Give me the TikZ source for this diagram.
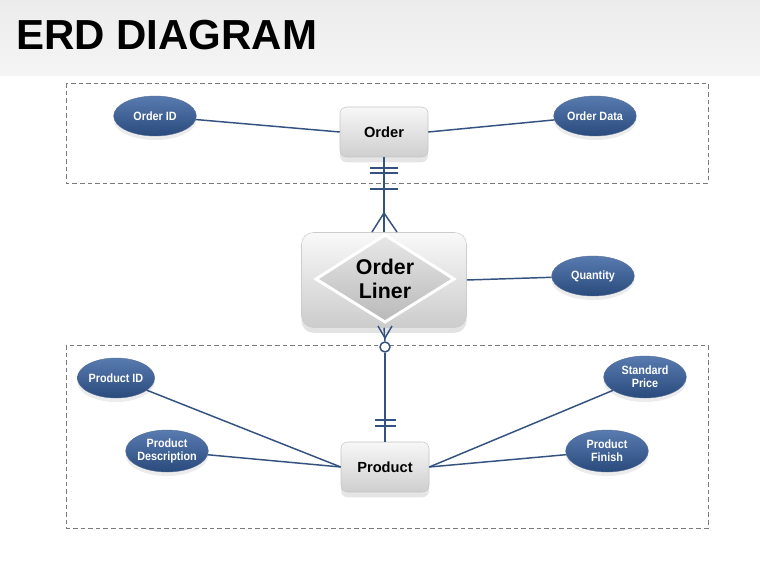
\documentclass[tikz,border=0pt]{standalone}
\usepackage{fontspec}
\setmainfont{Liberation Sans}
\newfontfamily\narrowfont[FakeStretch=0.9]{Liberation Sans}
\usetikzlibrary{shapes.geometric,shadows,calc}
\definecolor{lineblue}{HTML}{34527F}
\definecolor{attrtop}{HTML}{587BB0}
\definecolor{attrbot}{HTML}{2A4A7C}
\definecolor{boxdash}{HTML}{7A7A7A}
\tikzset{
  attr/.style={ellipse, minimum width=62pt, minimum height=30pt, inner xsep=-8pt, inner ysep=-2pt,
    top color=attrtop, bottom color=attrbot, draw=attrbot!80, line width=0.3pt,
    text=white, align=center, font=\narrowfont\bfseries\fontsize{9}{9.8}\selectfont,
    drop shadow={opacity=0.15, shadow xshift=0pt, shadow yshift=-3pt}},
  entity/.style={rectangle, rounded corners=5pt, minimum width=66pt, minimum height=37.5pt,
    inner sep=0pt, top color=gray!6, bottom color=gray!38, draw=gray!45, line width=0.4pt,
    font=\bfseries\fontsize{11}{12}\selectfont,
    drop shadow={opacity=0.2, shadow xshift=0pt, shadow yshift=-4pt}},
  conn/.style={draw=lineblue, line width=1.1pt},
  groupbox/.style={draw=boxdash, dash pattern=on 3.5pt off 2.2pt, line width=0.7pt},
}
\begin{document}
\begin{tikzpicture}[x=0.75pt,y=-0.75pt]
\useasboundingbox (0,0) rectangle (760,570);
\fill[white] (0,0) rectangle (760,570);
\shade[top color=gray!15, bottom color=gray!8] (0,0) rectangle (760,76);
\node[anchor=base west, inner sep=0pt, font=\bfseries\fontsize{31.5}{34}\selectfont] (title) at (16,50) {ERD DIAGRAM};

% group boxes
\draw[groupbox] (66,83) rectangle (708,183);
\draw[groupbox] (66,345) rectangle (708,528);

% entities
\node[entity] (order) at (384,132) {Order};
\node[entity] (product) at (385,467) {Product};

% order liner
\node[rectangle, rounded corners=9pt, minimum width=123.75pt, minimum height=71.25pt,
  top color=gray!5, bottom color=gray!40, draw=gray!40, line width=0.4pt,
  drop shadow={opacity=0.22, shadow xshift=0pt, shadow yshift=-4pt}] (liner) at (384,280) {};
\shade[top color=gray!18, bottom color=gray!55, draw=white, line width=2.2pt]
  (316,279) -- (385,235) -- (454,279) -- (385,322) -- cycle;
\node[align=center, font=\bfseries\fontsize{16}{18.5}\selectfont] (linertext) at (385,279) {Order\\Liner};

% attributes
\node[attr] (oid) at (155,116) {Order ID};
\node[attr] (odata) at (595,116) {Order Data};
\node[attr] (qty) at (593,276) {Quantity};
\node[attr, minimum width=58pt] (pid) at (116,378) {Product ID};
\node[attr, minimum height=31.5pt] (pdesc) at (167,451) {Product\\Description};
\node[attr, minimum height=31.5pt] (sprice) at (645,377) {Standard\\Price};
\node[attr, minimum height=31.5pt] (pfinish) at (607,451) {Product\\Finish};

% attribute connectors
\draw[conn] (oid) -- (order.west);
\draw[conn] (odata) -- (order.east);
\draw[conn] (liner.east) -- (qty);
\draw[conn] (pid) -- (product.west);
\draw[conn] (pdesc) -- (product.west);
\draw[conn] (sprice) -- (product.east);
\draw[conn] (pfinish) -- (product.east);

% Order -- Order Liner
\coordinate (oa) at (384,213);
\draw[conn] (order.south) -- (liner.north);
\draw[conn] (370,168) -- (398,168);
\draw[conn] (370,173) -- (398,173);
\draw[conn] (370,189) -- (398,189);
\draw[conn] (372,232) -- (oa) -- (397,232);

% Order Liner -- Product
\coordinate (ba) at (385,338);
\node[circle, draw=lineblue, line width=1.1pt, fill=white, minimum size=7.5pt, inner sep=0pt] (opt) at (385,347) {};
\draw[conn] (378,326) -- (ba) -- (392,326);
\draw[conn] (liner.south) -- (opt.north);
\draw[conn] (opt.south) -- (product.north);
\draw[conn] (375,420) -- (396,420);
\draw[conn] (375,426) -- (396,426);
\end{tikzpicture}
\end{document}
